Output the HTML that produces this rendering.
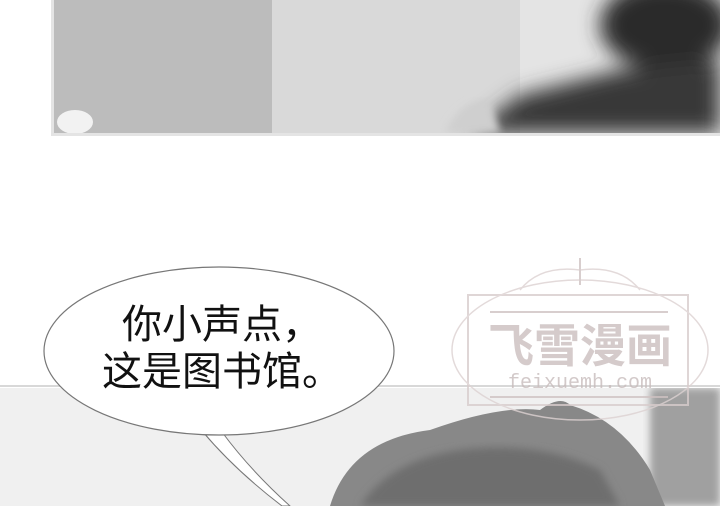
<!DOCTYPE html>
<html><head><meta charset="utf-8"><style>
html,body{margin:0;padding:0;background:#fff}
#c{position:relative;width:720px;height:506px;overflow:hidden;font-family:"Liberation Sans","Noto Sans CJK SC",sans-serif}
</style></head><body>
<div id="c">
<svg width="720" height="506" viewBox="0 0 720 506" xmlns="http://www.w3.org/2000/svg">
<defs>
<filter id="b"><feGaussianBlur stdDeviation="10"/></filter>
<filter id="b2"><feGaussianBlur stdDeviation="4"/></filter>
<clipPath id="p1"><rect x="54" y="0" width="666" height="133"/></clipPath>
<clipPath id="p2"><rect x="0" y="388" width="720" height="118"/></clipPath>
</defs>
<g>
<rect x="51" y="-2" width="672" height="138" fill="#e4e4e4"/>
<g clip-path="url(#p1)">
<rect x="54" y="0" width="666" height="133" fill="#e6e6e6"/>
<rect x="54" y="0" width="230" height="133" fill="#bcbcbc"/>
<rect x="272" y="-5" width="255" height="140" fill="#d9d9d9"/>
<rect x="520" y="0" width="200" height="133" fill="#e4e4e4"/>
<g filter="url(#b)">
<ellipse cx="665" cy="25" rx="65" ry="45" fill="#2a2a2a"/>
<path d="M470 133 L520 95 L620 70 L720 60 L720 133 Z" fill="#383838"/>
</g>
<path d="M445 133 Q460 100 490 100 L500 133 Z" fill="#cfcfcf" filter="url(#b2)"/>
<ellipse cx="75" cy="122" rx="18" ry="12" fill="#f2f2f2"/>
</g>
</g>
<g>
<rect x="0" y="385" width="720" height="2" fill="#d8d8d8"/>
<g clip-path="url(#p2)">
<rect x="0" y="388" width="720" height="118" fill="#f0f0f0"/>
<rect x="650" y="388" width="70" height="118" fill="#a0a0a0" filter="url(#b2)"/>
<path d="M330 506 Q350 440 430 430 Q500 405 540 410 Q560 395 570 405 Q620 420 650 470 L665 506 Z" fill="#888"/>
<path d="M360 506 Q390 460 460 450 Q540 440 600 470 L620 506 Z" fill="#6e6e6e" filter="url(#b2)"/>
</g>
</g>
<g opacity="0.8">
<rect x="468" y="295" width="220" height="110" fill="none" stroke="#d8cccc" stroke-width="2"/>
<ellipse cx="580" cy="350" rx="128" ry="70" fill="none" stroke="#ddd2d2" stroke-width="1.5"/>
<line x1="490" y1="312" x2="668" y2="312" stroke="#cfc2c2" stroke-width="2"/>
<line x1="490" y1="397" x2="668" y2="397" stroke="#cfc2c2" stroke-width="2"/>
<text x="580" y="362" text-anchor="middle" font-size="46" font-weight="bold" fill="#cbbfbf" font-family="Liberation Sans, Noto Sans CJK SC, sans-serif">飞雪漫画</text>
<text x="580" y="388" text-anchor="middle" font-size="20" fill="#c8bcbc" font-family="Liberation Mono, monospace">feixuemh.com</text>
<path d="M520 290 Q540 265 580 270 Q620 265 640 290" fill="none" stroke="#ddd2d2" stroke-width="1.5"/>
<path d="M580 258 L580 285" stroke="#cfc2c2" stroke-width="2"/>
</g>
<g>
<path d="M203 432 Q235 470 282 506 L290 506 Q250 470 222 432 Z" fill="#fff" stroke="#777" stroke-width="1"/>
<ellipse cx="219" cy="351" rx="175" ry="84" fill="#fff" stroke="#777" stroke-width="1.2"/>
<path d="M205 430 L222 430" stroke="#fff" stroke-width="3"/>
<text x="222" y="338" text-anchor="middle" font-size="40" fill="#111" font-family="Liberation Sans, Noto Sans CJK SC, sans-serif">你小声点，</text>
<text x="222" y="385" text-anchor="middle" font-size="40" fill="#111" font-family="Liberation Sans, Noto Sans CJK SC, sans-serif">这是图书馆。</text>
</g>
</svg>
</div>
</body></html>
